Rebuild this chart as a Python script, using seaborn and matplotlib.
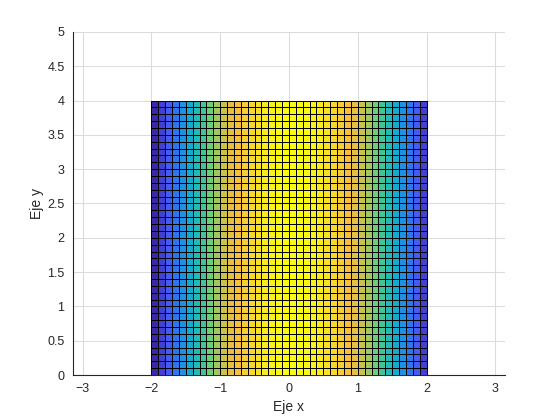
import numpy as np
import matplotlib
matplotlib.use("Agg")
import matplotlib.pyplot as plt
import seaborn as sns
from matplotlib.colors import LinearSegmentedColormap

col_z = [-0.416, -0.323, -0.227, -0.129, -0.029, 0.071, 0.170, 0.268, 0.362, 0.454,
         0.540, 0.622, 0.697, 0.765, 0.825, 0.878, 0.921, 0.955, 0.980, 0.995,
         1.000, 0.995, 0.980, 0.955, 0.921, 0.878, 0.825, 0.765, 0.697, 0.622,
         0.540, 0.454, 0.362, 0.268, 0.170, 0.071, -0.029, -0.129, -0.227, -0.323]
z_min, z_max = -0.416, 1.0
n_rows = 40
x_ticks = [-3, -2, -1, 0, 1, 2, 3]
y_ticks = [0, 0.5, 1, 1.5, 2, 2.5, 3, 3.5, 4, 4.5, 5]
y_tick_labels = ['0', '0.5', '1', '1.5', '2', '2.5', '3', '3.5', '4', '4.5', '5']

sns.set_style("white")
plt.rcParams['font.family'] = ['Liberation Sans', 'DejaVu Sans']

# parula-like colormap
parula = LinearSegmentedColormap.from_list("parula", [
    (0.2422, 0.1504, 0.6603),
    (0.2810, 0.3228, 0.9579),
    (0.1540, 0.5000, 0.9300),
    (0.0704, 0.6600, 0.8400),
    (0.1640, 0.7500, 0.6600),
    (0.4520, 0.8020, 0.4620),
    (0.7800, 0.7650, 0.3000),
    (0.9700, 0.7400, 0.2400),
    (0.9700, 0.8600, 0.1700),
    (0.9769, 0.9839, 0.0805),
])

x_edges = np.linspace(-2, 2, len(col_z) + 1)
y_edges = np.linspace(0, 4, n_rows + 1)
C = np.tile(np.array(col_z), (n_rows, 1))

fig = plt.figure(figsize=(5.6, 4.2), dpi=100)
ax = fig.add_axes([0.13, 0.107, 0.772, 0.817])

ax.pcolormesh(x_edges, y_edges, C, cmap=parula, vmin=z_min, vmax=z_max,
              edgecolors='black', linewidth=0.6, zorder=3)

ax.set_xlim(-np.pi, np.pi)
ax.set_ylim(0, 5)
ax.set_xticks(x_ticks)
ax.set_yticks(y_ticks)
ax.set_yticklabels(y_tick_labels)
ax.grid(True, color='#dcdcdc', linewidth=0.8, zorder=0)
ax.set_axisbelow(True)

sns.despine(ax=ax)
for s in ['left', 'bottom']:
    ax.spines[s].set_color('#262626')
    ax.spines[s].set_linewidth(0.8)
ax.tick_params(direction='in', length=4, width=0.8, color='#262626',
               labelcolor='#262626', labelsize=9, pad=6)

ax.set_xlabel('Eje x', fontsize=10, color='#262626', labelpad=3)
ax.set_ylabel('Eje y', fontsize=10, color='#262626', labelpad=2)

fig.savefig('out.png', dpi=100)
